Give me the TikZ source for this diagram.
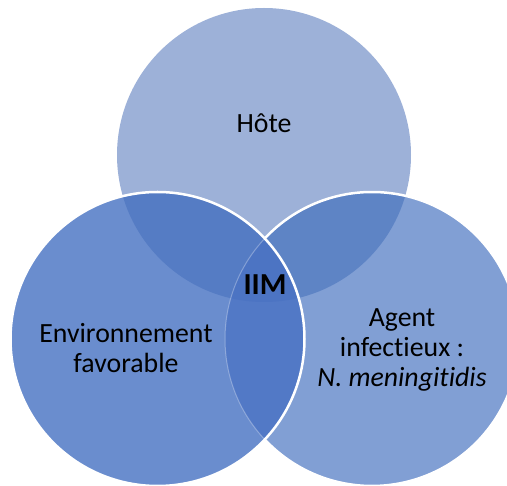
\documentclass[tikz,border=0pt]{standalone}
\usepackage{fontspec}
\setmainfont[Ligatures={NoCommon}]{Carlito}
\definecolor{topc}{HTML}{9DB1D8}
\definecolor{rightc}{HTML}{819FD4}
\definecolor{leftc}{HTML}{6A8DCE}
\definecolor{tlc}{HTML}{557CC4}
\definecolor{trc}{HTML}{5E84C5}
\definecolor{lrc}{HTML}{5279C6}
\definecolor{ctrc}{HTML}{4C74C3}
\tikzset{
  lbl/.style={font=\fontsize{27.8}{30}\selectfont, align=center, anchor=base, inner sep=0pt, text=black},
  rim/.style={draw=white, line width=2.5pt},
}
\begin{document}
\begin{tikzpicture}[x=1pt,y=-1pt]
\useasboundingbox (0,0) rectangle (507,486);
\clip (0,0) rectangle (507,486);
\def\R{147pt}
\coordinate (T) at (264,155);
\coordinate (L) at (157.5,339);
\coordinate (Rc) at (372,339);
\fill[topc] (T) circle[radius=\R];
\fill[rightc] (Rc) circle[radius=\R];
\fill[leftc] (L) circle[radius=\R];
\begin{scope}
  \clip (T) circle[radius=\R];
  \fill[tlc] (L) circle[radius=\R];
  \fill[trc] (Rc) circle[radius=\R];
\end{scope}
\begin{scope}
  \clip (L) circle[radius=\R];
  \fill[lrc] (Rc) circle[radius=\R];
  \clip (T) circle[radius=\R];
  \fill[ctrc] (Rc) circle[radius=\R];
\end{scope}
\draw[rim] (Rc) ++(137:147pt) arc[start angle=137, end angle=-137, radius=\R];
\draw[white, opacity=.3, line width=1pt] (Rc) ++(137:147pt) arc[start angle=137, end angle=223, radius=\R];
\draw[rim] (L) circle[radius=\R];
\node[lbl] (hote) at (264,133) {Hôte};
\node[lbl, font=\fontsize{30.5}{33}\selectfont\bfseries] (iim) at (265,295) {IIM};
\node[lbl] (env) at (126,373) {Environnement\\favorable};
\node[lbl] (agent) at (402,387) {Agent\\infectieux :\\\textit{N. meningitidis}};
\end{tikzpicture}
\end{document}
